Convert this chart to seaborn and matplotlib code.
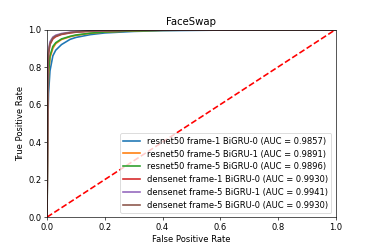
import numpy as np
import pandas as pd
import matplotlib
matplotlib.use("Agg")
import matplotlib.pyplot as plt
import seaborn as sns

# ROC points
fpr = [0.0, 0.002, 0.005, 0.01, 0.02, 0.03, 0.05, 0.08, 0.1, 0.15, 0.2, 0.3, 0.4, 0.6, 0.8, 1.0]
tpr_r50_f1_b0 = [0.0, 0.45, 0.66, 0.78, 0.86, 0.89, 0.92, 0.948, 0.958, 0.973, 0.982, 0.99, 0.994, 0.997, 0.999, 1.0]
tpr_r50_f5_b1 = [0.0, 0.55, 0.76, 0.85, 0.9, 0.925, 0.947, 0.962, 0.969, 0.98, 0.987, 0.993, 0.996, 0.998, 0.999, 1.0]
tpr_r50_f5_b0 = [0.0, 0.55, 0.77, 0.86, 0.91, 0.93, 0.95, 0.964, 0.971, 0.981, 0.987, 0.993, 0.996, 0.998, 0.999, 1.0]
tpr_d_f1_b0 = [0.0, 0.72, 0.87, 0.92, 0.95, 0.962, 0.974, 0.982, 0.986, 0.991, 0.994, 0.996, 0.998, 0.999, 1.0, 1.0]
tpr_d_f5_b1 = [0.0, 0.76, 0.89, 0.935, 0.96, 0.97, 0.979, 0.986, 0.989, 0.993, 0.995, 0.997, 0.998, 0.999, 1.0, 1.0]
tpr_d_f5_b0 = [0.0, 0.74, 0.88, 0.925, 0.955, 0.966, 0.976, 0.984, 0.987, 0.992, 0.994, 0.996, 0.998, 0.999, 1.0, 1.0]

names = ["resnet50 frame-1 BiGRU-0", "resnet50 frame-5 BiGRU-1", "resnet50 frame-5 BiGRU-0",
         "densenet frame-1 BiGRU-0", "densenet frame-5 BiGRU-1", "densenet frame-5 BiGRU-0"]
aucs = [0.9857, 0.9891, 0.9896, 0.9930, 0.9941, 0.9930]
curves = [tpr_r50_f1_b0, tpr_r50_f5_b1, tpr_r50_f5_b0, tpr_d_f1_b0, tpr_d_f5_b1, tpr_d_f5_b0]

plt.rcParams["font.size"] = 10.4
fig = plt.figure(figsize=(6.4, 4.27), dpi=58.4)
ax = fig.add_axes([0.126, 0.128, 0.772, 0.752])

for i, (name, auc, tpr) in enumerate(zip(names, aucs, curves)):
    df = pd.DataFrame({"fpr": fpr, "tpr": tpr})
    sns.lineplot(data=df, x="fpr", y="tpr", ax=ax, color="C" + str(i), lw=2,
                 label=name + " (AUC = %0.4f)" % auc, estimator=None, sort=False)

ax.plot([0, 1], [0, 1], "r--", lw=2)
ax.set_xlim([0.0, 1.0])
ax.set_ylim([0.0, 1.0])
ax.set_xlabel("False Positive Rate")
ax.set_ylabel("True Positive Rate")
ax.set_title("FaceSwap")
ax.legend(loc="lower right", labelspacing=0.45)
fig.savefig("out.png", dpi=58.4)
